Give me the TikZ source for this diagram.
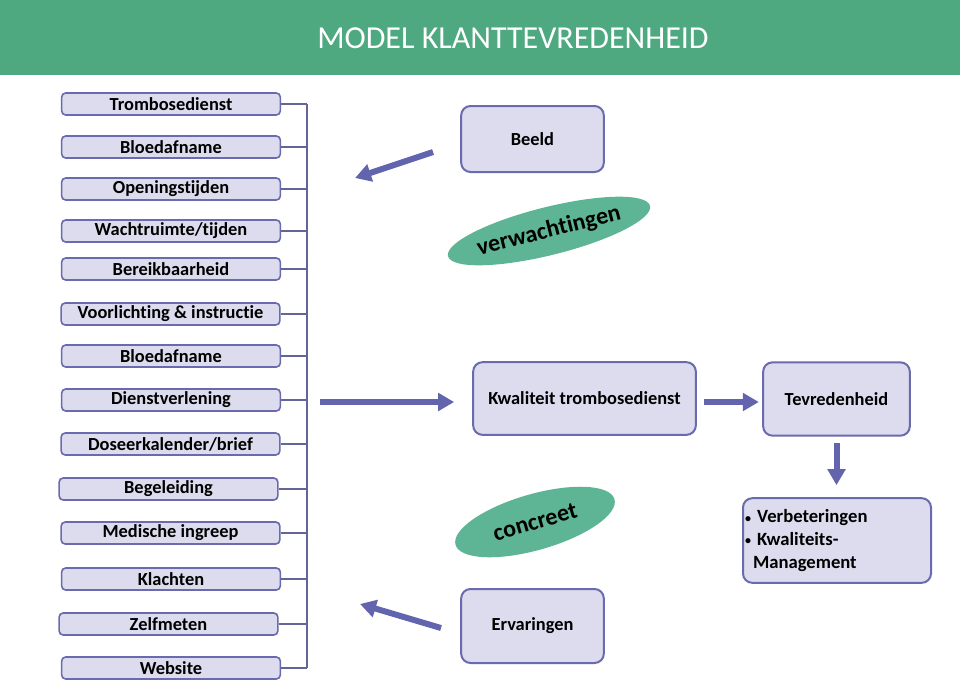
\documentclass[tikz,border=0pt]{standalone}
\usepackage{fontspec}
\setmainfont{Carlito}[RawFeature={-liga,-clig,-dlig}]
\usepackage{tikz}
\usetikzlibrary{arrows.meta}
\usetikzlibrary{shapes}
\usepackage{xcolor}

\definecolor{headgreen}{RGB}{78,168,128}
\definecolor{ovalgreen}{RGB}{94,181,150}
\definecolor{boxfill}{RGB}{220,220,238}
\definecolor{boxline}{RGB}{106,106,174}
\definecolor{arrowblue}{RGB}{98,100,174}
\definecolor{busline}{RGB}{100,100,150}

\newcommand{\smallbullet}{{\fontsize{9}{9}\selectfont\raisebox{0.5pt}{\textbullet}}}

\tikzset{
  itembox/.style={draw=boxline, line width=1.2pt, fill=boxfill, rounded corners=3pt,
    minimum width=164pt, minimum height=16.5pt, inner sep=0pt,
    font=\fontsize{13.8}{16}\selectfont\bfseries},
  bigbox/.style={draw=boxline, line width=1.5pt, fill=boxfill, rounded corners=7pt,
    inner sep=0pt, font=\fontsize{13.8}{16}\selectfont\bfseries},
  oval/.style={ellipse, fill=ovalgreen, inner sep=0pt,
    font=\fontsize{18}{20}\selectfont\bfseries},
  fatarrow/.style={draw=arrowblue, line width=4.5pt,
    -{Triangle[width=13pt,length=12pt]}},
  busline/.style={draw=busline, line width=1.1pt}
}

\begin{document}
\begin{tikzpicture}[x=0.75pt,y=0.75pt,yscale=-1,xscale=1]
\useasboundingbox (0,0) rectangle (960,686);

%Header band
\fill [headgreen] (0,0) rectangle (960,75);
% Text Node
\node (title) at (513,38) [text=white, font=\fontsize{24}{26}\selectfont] {MODEL KLANTTEVREDENHEID};

%List of items
\foreach \i/\yy/\xx/\txt in {1/104/171/Trombosedienst, 2/147/171/Bloedafname,
    3/189/171/Openingstijden, 4/231/171/{Wachtruimte/tijden}, 5/269/171/Bereikbaarheid,
    6/314/170.5/Voorlichting \& instructie, 7/356/171/Bloedafname,
    8/400/171/Dienstverlening, 9/444/170.5/{Doseerkalender/brief},
    10/489/168.5/Begeleiding, 11/533/170.5/Medische ingreep, 12/579/171/Klachten,
    13/624/168.5/Zelfmeten, 14/668/171/Website}
  \node [itembox] (item\i) at (\xx,\yy) {\txt};

%Bus line
\coordinate (bustop) at (307,104);
\coordinate (busbot) at (307,668);
\draw [busline] (bustop) -- (busbot);
\foreach \i in {1,...,14}
  \draw [busline] (item\i.east) -- (item\i.east -| bustop);

%Boxes
\node [bigbox, minimum width=107pt, minimum height=49.5pt] (beeld) at (532.5,139) {Beeld};
\node [bigbox, minimum width=167pt, minimum height=54.5pt] (kwal) at (584.5,398.5) {Kwaliteit trombosedienst};
\node [bigbox, minimum width=110pt, minimum height=55pt] (tevr) at (836.5,399) {Tevredenheid};
\node [bigbox, minimum width=141pt, minimum height=63.5pt, align=left, text width=138pt,
  font=\fontsize{14}{16.9}\selectfont\bfseries] (verb) at (837,540.5)
  {\smallbullet\ Verbeteringen\\\smallbullet\ Kwaliteits-\\\hspace*{6pt}Management};
\node [bigbox, minimum width=107pt, minimum height=55.5pt] (erv) at (532.5,626) {Ervaringen};

%Ovals
\node [oval, minimum width=142pt, minimum height=36pt, rotate=14] (verw) at (549,231) {verwachtingen};
\node [oval, minimum width=124pt, minimum height=42pt, rotate=16] (concr) at (535,522) {concreet};

%Arrows
\coordinate (beeldtail) at (433,152);
\coordinate (beeldtip) at (355,178);
\draw [fatarrow] (beeldtail) -- (beeldtip);
\coordinate (ervtail) at (441,628);
\coordinate (ervtip) at (360,604);
\draw [fatarrow] (ervtail) -- (ervtip);
\coordinate (bustail) at (320,402);
\draw [fatarrow, shorten >=13.5pt] (bustail) -- (bustail -| kwal.west);
\draw [fatarrow, shorten <=5pt, shorten >=2.5pt] (kwal.east |- bustail) -- (tevr.west |- bustail);
\draw [fatarrow, shorten <=5pt, shorten >=9pt] (tevr.south) -- (verb.north -| tevr.south);

\end{tikzpicture}
\end{document}
